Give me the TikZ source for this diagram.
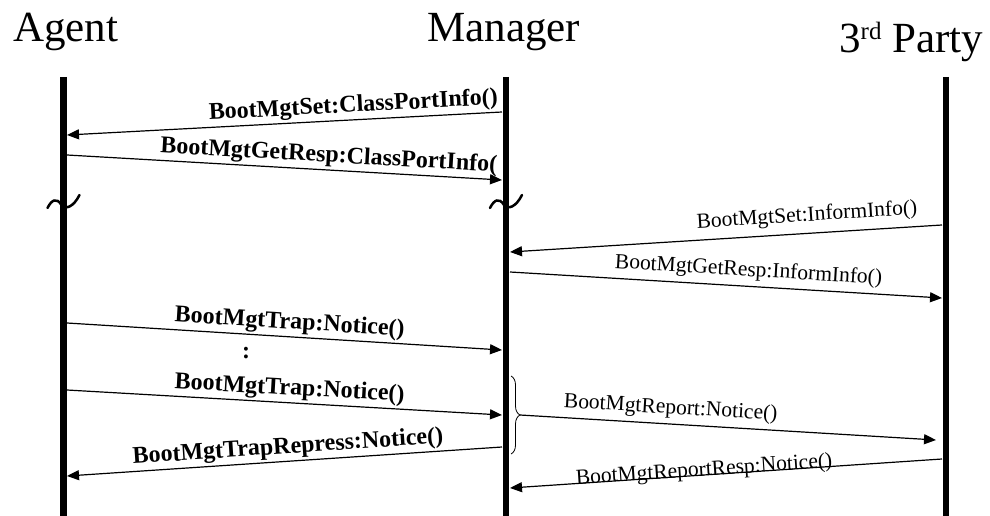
\documentclass[tikz,border=0pt]{standalone}
\usepackage{fontspec}
\setmainfont{Liberation Serif}
\usetikzlibrary{arrows.meta, positioning, decorations.pathreplacing}

\begin{document}
\begin{tikzpicture}[x=1pt, y=-1pt,
        life/.style={line width=6.5pt},
        msg/.style={line width=1.2pt, -{Triangle[length=12pt, width=10pt]}},
        boldlbl/.style={sloped, above, inner sep=2pt, font=\fontsize{24}{28}\selectfont\bfseries},
        lbl/.style={sloped, above, inner sep=2pt, font=\fontsize{21.5}{26}\selectfont},
        title/.style={anchor=base west, inner sep=0pt, font=\fontsize{43}{50}\selectfont},
        brk/.style={line width=2.5pt, line cap=round}]
        \useasboundingbox (0,0) rectangle (990,516);

        % titles
        \node[title] (agent) at (13,42) {Agent};
        \node[title] (manager) at (427,42) {Manager};
        \node[title] (party) at (839,53) {3\raisebox{13pt}{\fontsize{25}{28}\selectfont rd} Party};

        % lifelines
        \coordinate (agentTop) at (63.5,77);   \coordinate (agentBot) at (63.5,516);
        \coordinate (managerTop) at (506,77);  \coordinate (managerBot) at (506,516);
        \coordinate (partyTop) at (946,77);    \coordinate (partyBot) at (946,516);
        \draw[life] (agentTop) -- (agentBot);
        \draw[life] (managerTop) -- (managerBot);
        \draw[life] (partyTop) -- (partyBot);

        % breaks
        \foreach \lx in {63.5, 506}
            \draw[brk] ({\lx-16},208) .. controls ({\lx-12},200) and ({\lx-7},197) .. ({\lx-2},205)
                .. controls ({\lx+2},210) and ({\lx+10},207) .. ({\lx+16},195);

        % --- ClassPortInfo ---
        \coordinate (m1) at (502,112);  \coordinate (a1) at (67,135);
        \coordinate (a2) at (67,155);   \coordinate (m2) at (502,180);
        \draw[msg] (m1) -- (a1) node[boldlbl, pos=0.34] (l1) {BootMgtSet:ClassPortInfo()};
        \draw[msg] (a2) -- (m2) node[boldlbl, pos=0.60] (l2) {BootMgtGetResp:ClassPortInfo(};

        % --- InformInfo ---
        \coordinate (p3) at (942,225);  \coordinate (m3) at (510,252);
        \coordinate (m4) at (510,272);  \coordinate (p4) at (942,298);
        \draw[msg] (p3) -- (m3) node[lbl, pos=0.31, yshift=5pt] (l3) {BootMgtSet:InformInfo()};
        \draw[msg] (m4) -- (p4) node[lbl, pos=0.55, yshift=3pt] (l4) {BootMgtGetResp:InformInfo()};

        % --- Notice ---
        \coordinate (a5) at (67,323);   \coordinate (m5) at (502,350);
        \coordinate (a6) at (67,390);   \coordinate (m6) at (502,415);
        \draw[msg] (a5) -- (m5) node[boldlbl, pos=0.51, inner sep=1pt, yshift=1pt] (l5) {BootMgtTrap:Notice()};
        \node[inner sep=0pt, font=\fontsize{24}{28}\selectfont\bfseries] (dots) at (246,353) {:};
        \draw[msg] (a6) -- (m6) node[boldlbl, pos=0.51] (l6) {BootMgtTrap:Notice()};

        % brace and report
        \coordinate (brTop) at (511,376);  \coordinate (brBot) at (511,454);
        \draw[decorate, decoration={brace, amplitude=9pt}, line width=0.8pt] (brTop) -- (brBot);
        \coordinate (brTip) at (520,415);  \coordinate (p7) at (936,440);
        \draw[msg] (brTip) -- (p7) node[lbl, pos=0.36, yshift=3pt] (l7) {BootMgtReport:Notice()};

        \coordinate (m8) at (502,447);  \coordinate (a8) at (67,476);
        \draw[msg] (m8) -- (a8) node[boldlbl, pos=0.49] (l8) {BootMgtTrapRepress:Notice()};

        \coordinate (p9) at (942,459);  \coordinate (m9) at (510,488);
        \draw[msg] (p9) -- (m9) node[lbl, pos=0.55, yshift=-8pt] (l9) {BootMgtReportResp:Notice()};

    \end{tikzpicture}
\end{document}
